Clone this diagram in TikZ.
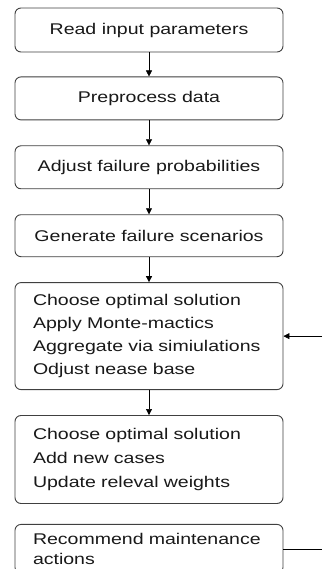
\documentclass[tikz,border=0pt]{standalone}
\usepackage{fontspec}
\setmainfont[FakeStretch=1.26]{Liberation Sans}
\usetikzlibrary{arrows.meta,positioning}

\begin{document}
\begin{tikzpicture}[->,>={Triangle[length=6pt,width=6pt]},x=1pt,y=1pt,node distance=25pt,semithick]
  \tikzstyle{procbox}=[rectangle,rounded corners=6pt,draw=black!75,line width=0.9pt,fill=white,
    minimum width=268pt,minimum height=43pt,text=black!90,font=\fontsize{15.5}{23}\selectfont]
  \tikzstyle{listbox}=[procbox,align=left,text width=232pt,inner xsep=18pt]

  \useasboundingbox (0,0) rectangle (322,-569);

  \node[procbox,minimum height=44pt] (read) at (149,-30) {Read input parameters};
  \node[procbox] (prep) [below=24pt of read] {Preprocess data};
  \node[procbox] (adjust) [below=of prep] {Adjust failure probabilities};
  \node[procbox,minimum height=42pt] (scen) [below=of adjust] {Generate failure scenarios};
  \node[listbox,minimum height=107pt] (simul) [below=of scen]
    {Choose optimal solution\\Apply Monte-mactics\\Aggregate via simiulations\\Odjust nease base};
  \node[listbox,minimum height=88pt,font=\fontsize{15.5}{24}\selectfont] (update) [below=of simul]
    {Choose optimal solution\\Add new cases\\Update releval weights};
  \node[listbox,minimum height=49pt,font=\fontsize{15.5}{20}\selectfont] (recommend) [below=20pt of update]
    {Recommend maintenance\\actions};

  \coordinate (edge) at (322,0);

  \path (read) edge (prep)
	(prep) edge (adjust)
	(adjust) edge (scen)
	(scen) edge (simul)
	(simul) edge (update);
  \draw (edge |- simul.east) -- (simul.east);
  \draw[-] (recommend.east) -- (edge |- recommend.east);
\end{tikzpicture}
\end{document}
